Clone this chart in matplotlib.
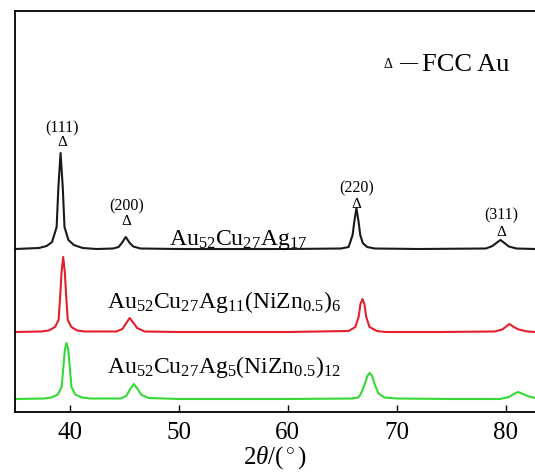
import matplotlib
matplotlib.use("Agg")
import matplotlib.pyplot as plt

plt.rcParams['font.family'] = ['Liberation Serif', 'DejaVu Serif']
plt.rcParams['mathtext.fontset'] = 'custom'
plt.rcParams['mathtext.rm'] = 'Liberation Serif'
plt.rcParams['mathtext.it'] = 'Liberation Serif:italic'

# traced XRD patterns (2theta in degrees, intensity in a.u. incl. stacking offset)
x_black = [35.0, 37.2, 37.9, 38.4, 38.82, 38.98, 39.18, 39.38, 39.54, 39.9, 40.4, 41.2, 42.5,
           44.0, 44.5, 44.8, 45.16, 45.52, 45.85, 46.5, 50.0, 55.0, 60.0,
           64.9, 65.6, 65.97, 66.12, 66.32, 66.52, 66.67, 66.9, 67.3, 68.0, 72.0,
           78.2, 78.8, 79.15, 79.53, 79.9, 80.3, 81.0, 82.7]
y_black = [163, 164, 166, 170, 185, 225, 259, 225, 185, 172, 167, 164, 163,
           163.5, 165, 169, 175, 169, 165.5, 163.5, 163, 163, 163,
           163.5, 165, 177, 190, 204, 190, 177, 169, 165, 163.5, 163,
           163.5, 166, 169, 172, 169, 165.5, 163.5, 163]

x_red = [35.0, 37.4, 38.1, 38.67, 39.0, 39.14, 39.27, 39.42, 39.57, 39.7, 39.84, 40.17, 40.7, 41.4,
         44.3, 44.85, 45.15, 45.52, 45.88, 46.2, 46.9, 50.0, 55.0, 60.0,
         65.6, 66.22, 66.52, 66.69, 66.87, 67.05, 67.22, 67.52, 68.2, 69.0, 74.0,
         79.0, 79.7, 80.0, 80.35, 80.75, 81.2, 82.0, 82.7]
y_red = [80, 80.5, 81.5, 85, 92, 115, 140, 155, 140, 115, 92, 85, 81.5, 80.5,
         80.5, 83, 88, 94, 89, 84, 80.5, 80, 80, 80,
         81, 85, 95, 108, 113, 108, 95, 85, 81, 80, 80,
         80.5, 82.5, 85, 88, 85, 82.5, 80.5, 80]

x_green = [35.0, 37.7, 38.33, 38.93, 39.28, 39.43, 39.57, 39.73, 39.89, 40.03, 40.18, 40.53, 41.13, 41.9,
           44.7, 45.2, 45.52, 45.89, 46.25, 46.6, 47.3, 50.0, 55.0, 60.0,
           65.9, 66.5, 66.74, 67.06, 67.32, 67.54, 67.76, 68.02, 68.34, 68.9, 70.0, 75.0,
           79.5, 80.3, 80.75, 81.14, 81.5, 82.0, 82.7]
y_green = [13, 13.5, 14.5, 17.5, 25, 44, 62, 69, 62, 44, 25, 17.5, 14.5, 13.5,
           13.5, 16, 22, 28, 23, 17, 14, 13, 13, 13,
           13.5, 14.5, 18.5, 27, 36, 39, 36, 27, 18.5, 14.5, 13.5, 13,
           13, 15, 18, 20, 18.5, 16, 14]

hkl_labels = ['(111)', '(200)', '(220)', '(311)']
hkl_x = [39.3, 45.25, 66.3, 79.6]
hkl_y = [284, 206, 224, 197]
tri_y = [270, 191, 207, 180]

black_label = r'Au$_{52}$Cu$_{27}$Ag$_{17}$'
red_label = r'Au$_{52}$Cu$_{27}$Ag$_{11}$(NiZn$_{0.5}$)$_{6}$'
green_label = r'Au$_{52}$Cu$_{27}$Ag$_{5}$(NiZn$_{0.5}$)$_{12}$'

fig = plt.figure(figsize=(5.35, 4.73), dpi=100)
ax = fig.add_axes([15 / 535, 61 / 473, 1 - 15 / 535, 400.5 / 473])

ax.plot(x_black, y_black, color='#1a1a1a', lw=1.5)
ax.plot(x_red, y_red, color='#e3202b', lw=1.5)
ax.plot(x_green, y_green, color='#35d835', lw=1.5)

ax.set_xlim(35, 82.7)
ax.set_ylim(0, 400.5)
ax.set_xticks([40, 50, 60, 70, 80])
ax.set_yticks([])
ax.tick_params(axis='x', direction='in', length=5, width=1, labelsize=18, pad=7)
for s in ['left', 'top', 'bottom']:
    ax.spines[s].set_linewidth(1.3)
ax.spines['right'].set_visible(False)
ax.set_xlabel(r'2$\mathit{\theta}$/($^\circ$)', fontsize=18, labelpad=0)

for lab, xx, yy, ty in zip(hkl_labels, hkl_x, hkl_y, tri_y):
    ax.text(xx, yy, lab, fontsize=11.5, ha='center', va='center')
    ax.text(xx, ty, 'Δ', fontsize=11, ha='center', va='center')

ax.text(49.1, 167, black_label, fontsize=17, ha='left', va='baseline')
ax.text(43.4, 104, red_label, fontsize=17, ha='left', va='baseline')
ax.text(43.4, 39, green_label, fontsize=17, ha='left', va='baseline')

# legend-like note in the upper right
ax.text(69.2, 348, 'Δ', fontsize=10, ha='center', va='center')
ax.text(70.2, 348, '—', fontsize=13, ha='left', va='center', fontweight='bold')
ax.text(72.3, 347, 'FCC Au', fontsize=19, ha='left', va='center')

fig.savefig('out.png', dpi=100)
